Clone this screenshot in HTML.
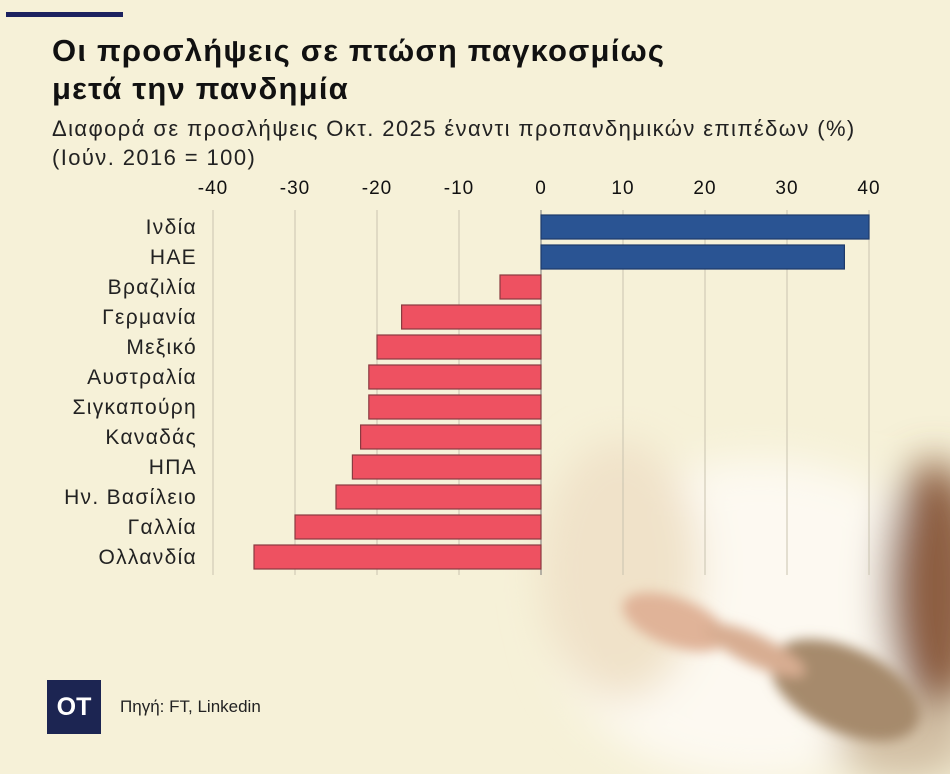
<!DOCTYPE html>
<html><head><meta charset="utf-8"><style>
body{margin:0;width:950px;height:774px;overflow:hidden;background:#f6f1d8;font-family:"Liberation Sans","DejaVu Sans",sans-serif;position:relative}
.t{position:absolute;color:#111}
</style></head><body>
<div style="position:absolute;left:6px;top:12px;width:117px;height:5px;background:#1c2260"></div>
<div class="t" style="left:52px;top:32px;font-size:31px;letter-spacing:1.2px;font-weight:bold;line-height:38px">Οι προσλήψεις σε πτώση παγκοσμίως<br>μετά την πανδημία</div>
<div class="t" style="left:52px;top:114px;font-size:22px;letter-spacing:1.4px;line-height:29px;color:#222">Διαφορά σε προσλήψεις Οκτ. 2025 έναντι προπανδημικών επιπέδων (%)<br>(Ιούν. 2016 = 100)</div>
<svg style="position:absolute;left:0;top:0" width="950" height="774">
<defs>
<filter id="b1"><feGaussianBlur stdDeviation="20"/></filter>
<filter id="b2"><feGaussianBlur stdDeviation="6"/></filter>
</defs>
<g filter="url(#b1)">
<ellipse cx="760" cy="620" rx="210" ry="160" fill="#fdf9f1"/>
<ellipse cx="620" cy="570" rx="80" ry="130" fill="#f0e2c9"/>
<ellipse cx="935" cy="590" rx="50" ry="130" fill="#8d5f42"/>
<ellipse cx="905" cy="740" rx="70" ry="40" fill="#d2bfa4"/>
</g>
<g filter="url(#b2)">
<ellipse cx="845" cy="690" rx="80" ry="42" fill="#a68a6c" transform="rotate(25 845 690)"/>
<ellipse cx="675" cy="622" rx="55" ry="24" fill="#e0b398" transform="rotate(20 675 622)"/>
<ellipse cx="755" cy="650" rx="55" ry="15" fill="#d8ad92" transform="rotate(25 755 650)"/>
</g>
</svg>
<svg id="chart" style="position:absolute;left:0;top:0" width="950" height="774"></svg>
<div style="position:absolute;left:47px;top:680px;width:54px;height:54px;background:#1c2552;color:#fff;font-weight:bold;font-size:25px;line-height:54px;text-align:center">OT</div>
<div class="t" style="left:120px;top:697px;font-size:17px;color:#222">Πηγή: FT, Linkedin</div>
<script>
const categories=["Ινδία","ΗΑΕ","Βραζιλία","Γερμανία","Μεξικό","Αυστραλία","Σιγκαπούρη","Καναδάς","ΗΠΑ","Ην. Βασίλειο","Γαλλία","Ολλανδία"];
const values=[40,37,-5,-17,-20,-21,-21,-22,-23,-25,-30,-35];
const ticks=[-40,-30,-20,-10,0,10,20,30,40];
const svg=document.getElementById('chart');
const NS='http://www.w3.org/2000/svg';
const x=v=>541+v*8.2;
const y=i=>227+i*30;
function mk(t,a){const e=document.createElementNS(NS,t);for(const k in a)e.setAttribute(k,a[k]);svg.appendChild(e);return e;}
ticks.forEach(t=>{
 const l=mk('line',{x1:x(t),x2:x(t),y1:210,y2:575,stroke:t===0?'#777':'#c9c3b0','stroke-width':1});
 
 
 const tx=mk('text',{x:x(t),y:194,'text-anchor':'middle','font-size':19,'letter-spacing':1,fill:'#111'});
 tx.textContent=t;
 
 
});
categories.forEach((c,i)=>{
 const v=values[i];
 const r=mk('rect',{x:Math.min(x(0),x(v)),y:y(i)-12,width:Math.abs(x(v)-x(0)),height:24,fill:v>=0?'#2a5493':'#ee5161',stroke:v>=0?'#1e3a6a':'#8a3a40','stroke-width':1.2});
 
 
 const t=mk('text',{x:197,y:y(i)+7,'text-anchor':'end','font-size':21,'letter-spacing':1.3,fill:'#222'});
 t.textContent=c;
 
 
});
</script>
</body></html>
